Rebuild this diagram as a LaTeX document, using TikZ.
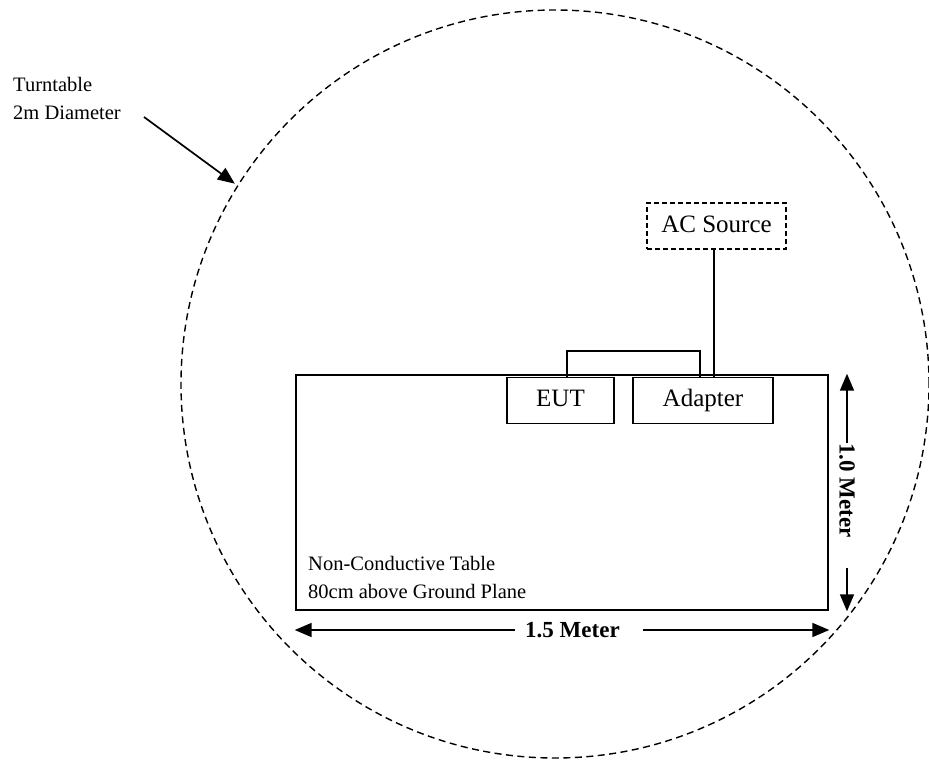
\documentclass[tikz,border=0pt]{standalone}
\usepackage{fontspec}
\setmainfont{Liberation Serif}
\usetikzlibrary{arrows.meta}

\tikzset{
    unit/.style={draw, line width=1.3pt, inner sep=0pt, minimum height=46pt, text height=17pt, text depth=5pt, font=\fontsize{25}{30}\selectfont},
    dimarrow/.style={line width=1.7pt, -{Triangle[length=17pt,width=14pt]}},
    dimlabel/.style={inner sep=0pt, font=\fontsize{23}{28}\selectfont\bfseries},
    note/.style={align=left, inner sep=0pt, font=\fontsize{20.5}{28}\selectfont},
}

\begin{document}
\begin{tikzpicture}[x=1pt,y=-1pt]
        \useasboundingbox (0,0) rectangle (929,760);

        \node[circle, draw, inner sep=0pt, minimum size=748pt, line width=1.4pt, dash pattern=on 7pt off 4.5pt] (turntable) at (555,384) {};
        \node[note, anchor=base west] (ttlabel) at (13,119) {Turntable\\2m Diameter};
        \coordinate (ttfrom) at (144,117);
        \draw[dimarrow, shorten >=3pt] (ttfrom) -- (turntable.148.6);

        \node[draw, line width=2.6pt, inner sep=0pt, minimum width=532pt, minimum height=235pt] (table) at (562,492.5) {};
        \node[note, anchor=base west] (tablelabel) at (308,598) {Non-Conductive Table\\80cm above Ground Plane};

        \node[unit, minimum width=107pt, anchor=north] (eut) at (560.5,377) {EUT};
        \node[unit, minimum width=140pt, anchor=north] (adapter) at (703,377) {Adapter};
        \node[unit, minimum width=139pt, dash pattern=on 5pt off 3pt] (acsrc) at (716.5,226) {AC Source};

        \draw[line width=1.3pt] ([xshift=6.5pt]eut.north) -- ++(0pt,26pt) -| ([xshift=-3pt]adapter.north);
        \draw[line width=1.3pt] ([xshift=-2.5pt]acsrc.south) -- ([xshift=11pt]adapter.north);

        \node[dimlabel, anchor=west] (hlabel) at (525,630) {1.5 Meter};
        \draw[dimarrow] ([xshift=-10pt]hlabel.west) -- (hlabel.west -| table.west);
        \draw[dimarrow] ([xshift=23pt]hlabel.east) -- (hlabel.east -| table.east);

        \node[dimlabel, rotate=-90, anchor=west] (vlabel) at (847,443) {1.0 Meter};
        \draw[dimarrow] (vlabel.west) -- (vlabel.west |- table.north);
        \draw[dimarrow] ([yshift=-30pt]vlabel.east) -- (vlabel.east |- table.south);
\end{tikzpicture}
\end{document}
